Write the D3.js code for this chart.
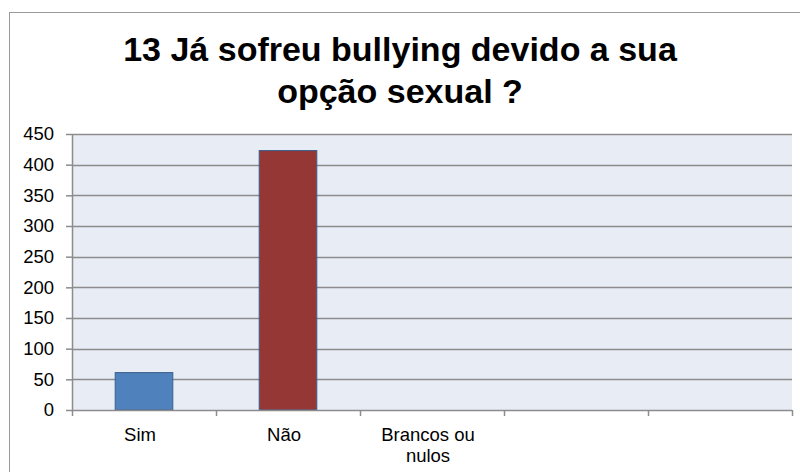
<!DOCTYPE html>
<html>
<head>
<meta charset="utf-8">
<script src="https://cdn.jsdelivr.net/npm/d3@7"></script>
<style>
  html, body { margin: 0; padding: 0; background: #fff; }
  svg { display: block; font-family: Arial, "Liberation Sans", sans-serif; }
</style>
</head>
<body>
<svg id="chart" width="800" height="472"></svg>
<script>
// Survey answers: question 13
const titleLines = ["13 Já sofreu bullying devido a sua", "opção sexual ?"];
const categories = ["Sim", "Não", "Brancos ou nulos", "", ""];
const values = [61, 423, 0, null, null];
const barColors = ["#4F81BD", "#953735", "#9BBB59", "#8064A2", "#4BACC6"];
const yTicks = [0, 50, 100, 150, 200, 250, 300, 350, 400, 450];

const svg = d3.select("#chart");
const W = 800, H = 472;
const margin = { left: 72, right: 8, top: 134, bottom: 62 };
const plotW = W - margin.left - margin.right;
const plotH = H - margin.top - margin.bottom;

// outer chart frame (runs off the right and bottom edges)
svg.append("rect")
  .attr("x", 9.5).attr("y", 12.5)
  .attr("width", 800).attr("height", 500)
  .attr("fill", "#fff")
  .attr("stroke", "#9a9a9a").attr("stroke-width", 1);

// title
svg.append("text")
  .attr("x", 400).attr("text-anchor", "middle")
  .attr("font-size", 34).attr("font-weight", "bold").attr("fill", "#000")
  .selectAll("tspan").data(titleLines).join("tspan")
  .attr("x", 400).attr("y", (d, i) => 61 + i * 42)
  .text(d => d);

const x = d3.scaleBand().domain(d3.range(categories.length))
  .range([0, plotW]).paddingInner(0.6).paddingOuter(0.3);
const xCat = d3.scaleBand().domain(d3.range(categories.length)).range([0, plotW]);
const y = d3.scaleLinear().domain([0, 450]).range([plotH, 0]);

const g = svg.append("g").attr("transform", `translate(${margin.left},${margin.top})`);

// plot background
g.append("rect").attr("width", plotW).attr("height", plotH).attr("fill", "#E8ECF4");

// horizontal gridlines
g.append("g").selectAll("line").data(yTicks.filter(t => t > 0)).join("line")
  .attr("x1", 0).attr("x2", plotW)
  .attr("y1", d => Math.round(y(d)) + 0.5).attr("y2", d => Math.round(y(d)) + 0.5)
  .attr("stroke", "#8c8c8c").attr("stroke-width", 1.5);

// bars
g.append("g").selectAll("rect")
  .data(values.map((v, i) => ({ v, i })).filter(d => d.v != null && d.v > 0))
  .join("rect")
  .attr("x", d => x(d.i))
  .attr("y", d => y(d.v))
  .attr("width", x.bandwidth())
  .attr("height", d => y(0) - y(d.v))
  .attr("fill", d => barColors[d.i])
  .attr("stroke", "#3B5E8C").attr("stroke-width", 1);

// y axis
const yAxis = g.append("g")
  .call(d3.axisLeft(y).tickValues(yTicks).tickSize(6).tickPadding(12));
yAxis.select(".domain").attr("stroke", "#8c8c8c").attr("stroke-width", 1.5).attr("d", `M0.5,0V${plotH}`);
yAxis.selectAll(".tick line").attr("stroke", "#8c8c8c").attr("stroke-width", 1.5);
yAxis.selectAll(".tick text").attr("font-size", 18.5).attr("fill", "#000")
  .attr("font-family", "Arial, 'Liberation Sans', sans-serif");

// x axis with ticks at category boundaries
const xAxisG = g.append("g").attr("transform", `translate(0,${plotH})`);
xAxisG.append("line").attr("x1", 0).attr("x2", plotW).attr("y1", 0.5).attr("y2", 0.5)
  .attr("stroke", "#8c8c8c").attr("stroke-width", 1.5);
const bounds = d3.range(categories.length + 1).map(i => i === categories.length ? plotW : xCat(i));
xAxisG.selectAll("line.tk").data(bounds).join("line").attr("class", "tk")
  .attr("x1", d => Math.round(d) + 0.5).attr("x2", d => Math.round(d) + 0.5)
  .attr("y1", 0).attr("y2", 6)
  .attr("stroke", "#8c8c8c").attr("stroke-width", 1.5);

// category labels (wrapped)
const wrap = { "Brancos ou nulos": ["Brancos ou", "nulos"] };
xAxisG.selectAll("text.cat").data(categories).join("text").attr("class", "cat")
  .attr("text-anchor", "middle").attr("font-size", 18.5).attr("fill", "#000")
  .each(function (d, i) {
    const lines = wrap[d] || [d];
    const cx = xCat(i) + xCat.bandwidth() / 2 - 4;
    d3.select(this).selectAll("tspan").data(lines).join("tspan")
      .attr("x", cx).attr("y", (l, k) => 31 + k * 21)
      .text(l => l);
  });
</script>
</body>
</html>
